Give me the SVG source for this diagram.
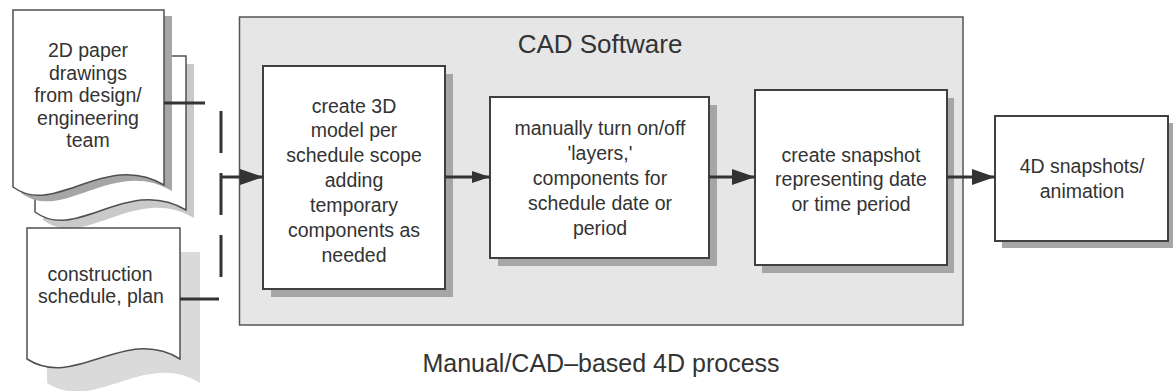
<svg xmlns="http://www.w3.org/2000/svg" width="1173" height="391" viewBox="0 0 1173 391">
<defs>
<style>
.doc{fill:#fff;stroke:#505050;stroke-width:1.5}
.box{fill:#fff;stroke:#404040;stroke-width:2}
.shd{fill:#a6a6a6}
.shl{fill:#c9c9c9}
.shx{fill:#dadada}
.t{font-family:"Liberation Sans",Arial,sans-serif;font-size:19.5px;fill:#333;text-anchor:middle}
.ln{stroke:#333;stroke-width:3;fill:none}
</style>
<marker id="ah" markerUnits="userSpaceOnUse" markerWidth="23" markerHeight="16" refX="23" refY="8" orient="auto"><path d="M0,0 L23,8 L0,16 Z" fill="#333"/></marker>
<marker id="ahs" markerUnits="userSpaceOnUse" markerWidth="18" markerHeight="12" refX="18" refY="6" orient="auto"><path d="M0,0 L18,6 L0,12 Z" fill="#333"/></marker>
</defs>
<rect width="1173" height="391" fill="#fff"/>

<g id="doc-drawings">
<path class="shl" transform="translate(8,8)" d="M35,56 H186 V210 C127,175 77,243 35,212 Z"/>
<path class="doc" d="M35,56 H186 V210 C127,175 77,243 35,212 Z"/>
<path class="shd" transform="translate(8,6)" d="M13,10 H164 V185 C105,150 55,218 13,187 Z"/>
<path class="doc" d="M13,10 H164 V185 C105,150 55,218 13,187 Z"/>
<text class="t" x="88" y="57">2D paper</text>
<text class="t" x="88" y="79.5">drawings</text>
<text class="t" x="88" y="102">from design/</text>
<text class="t" x="88" y="124.5">engineering</text>
<text class="t" x="88" y="147">team</text>
</g>

<g id="doc-schedule">
<path class="shx" transform="translate(20,24)" d="M27,228 H180 V359 C125,325 75,390 27,359 Z"/>
<path class="doc" d="M27,228 H180 V359 C125,325 75,390 27,359 Z"/>
<text class="t" x="100" y="281">construction</text>
<text class="t" x="101" y="303">schedule, plan</text>
</g>

<g id="cad-software">
<rect x="239.5" y="17" width="723.5" height="308" fill="#e6e6e6" stroke="#555" stroke-width="1.5"/>
<text x="600" y="53" font-family="Liberation Sans, Arial, sans-serif" font-size="26" fill="#333" text-anchor="middle">CAD Software</text>
</g>

<g id="box-model">
<rect class="shd" x="271" y="74" width="182" height="223"/>
<rect class="box" x="263" y="66" width="182" height="223"/>
<text class="t" x="354" y="113">create 3D</text>
<text class="t" x="354" y="137">model per</text>
<text class="t" x="354" y="162">schedule scope</text>
<text class="t" x="354" y="187">adding</text>
<text class="t" x="354" y="212">temporary</text>
<text class="t" x="354" y="237">components as</text>
<text class="t" x="354" y="262">needed</text>
</g>

<g id="box-layers">
<rect class="shd" x="498" y="105" width="219" height="161"/>
<rect class="box" x="490" y="97" width="219" height="161"/>
<text class="t" x="600" y="135">manually turn on/off</text>
<text class="t" x="600" y="160">'layers,'</text>
<text class="t" x="600" y="185">components for</text>
<text class="t" x="600" y="210">schedule date or</text>
<text class="t" x="600" y="235">period</text>
</g>

<g id="box-snapshot">
<rect class="shd" x="762" y="98" width="192" height="175"/>
<rect class="box" x="755" y="90" width="192" height="175"/>
<text class="t" x="851" y="162">create snapshot</text>
<text class="t" x="851" y="186">representing date</text>
<text class="t" x="851" y="211">or time period</text>
</g>

<g id="box-output">
<rect class="shd" x="1002" y="123" width="171" height="125"/>
<rect class="box" x="995" y="116" width="173" height="125"/>
<text class="t" x="1082" y="173">4D snapshots/</text>
<text class="t" x="1082" y="198">animation</text>
</g>

<g id="connectors">
<line class="ln" x1="164" y1="103" x2="205" y2="103"/>
<line class="ln" x1="180" y1="299" x2="219" y2="299"/>
<line class="ln" x1="221" y1="111" x2="221" y2="277" stroke-dasharray="42 20"/>
<line class="ln" x1="221" y1="177" x2="263" y2="177" marker-end="url(#ah)"/>
<line class="ln" x1="445" y1="177" x2="490" y2="177" stroke-width="2.5" marker-end="url(#ahs)"/>
<line class="ln" x1="709" y1="177" x2="755" y2="177" stroke-width="3.5" marker-end="url(#ah)"/>
<line class="ln" x1="947" y1="177" x2="995" y2="177" stroke-width="3.5" marker-end="url(#ah)"/>
</g>

<text x="601" y="372" font-family="Liberation Sans, Arial, sans-serif" font-size="25" fill="#333" text-anchor="middle">Manual/CAD–based 4D process</text>
</svg>
